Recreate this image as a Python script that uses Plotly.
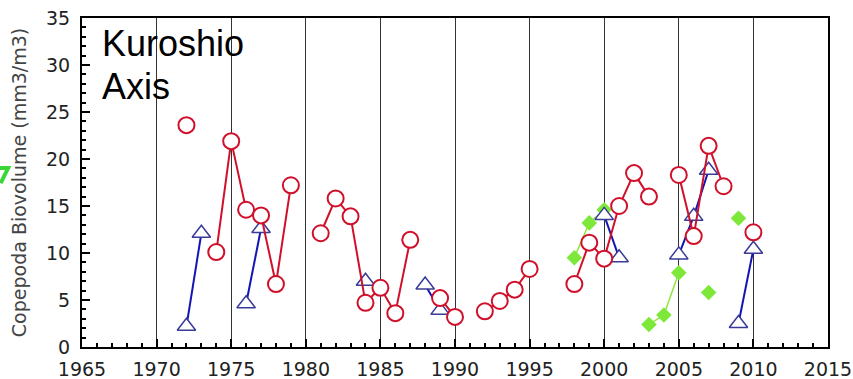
import plotly.graph_objects as go

years = list(range(1972, 2011))

# Red circles (series A)
red = {1972: 23.6, 1974: 10.1, 1975: 21.9, 1976: 14.6, 1977: 14.0, 1978: 6.7, 1979: 17.2,
       1981: 12.1, 1982: 15.8, 1983: 13.9, 1984: 4.7, 1985: 6.3, 1986: 3.6, 1987: 11.4,
       1989: 5.2, 1990: 3.2, 1992: 3.8, 1993: 4.9, 1994: 6.1, 1995: 8.3,
       1998: 6.7, 1999: 11.1, 2000: 9.4, 2001: 15.0, 2002: 18.5, 2003: 16.0,
       2005: 18.3, 2006: 11.8, 2007: 21.4, 2008: 17.1, 2010: 12.2}
# Blue triangles (series B)
blue = {1972: 2.2, 1973: 12.1, 1976: 4.6, 1977: 12.6, 1984: 7.0, 1988: 6.6, 1989: 3.9,
        2000: 14.0, 2001: 9.5, 2005: 9.8, 2006: 13.9, 2007: 18.8, 2009: 2.5, 2010: 10.4}
# Green diamonds (series C)
green = {1998: 9.5, 1999: 13.2, 2000: 14.6, 2003: 2.4, 2004: 3.4, 2005: 7.9,
         2007: 5.8, 2009: 13.7}

red_y = [red.get(y) for y in years]
blue_y = [blue.get(y) for y in years]
green_y = [green.get(y) for y in years]

x_ticks = list(range(1965, 2016, 5))
y_ticks = list(range(0, 36, 5))

fig = go.Figure()
fig.add_trace(go.Scatter(x=years, y=green_y, mode="lines+markers", connectgaps=False,
                         line=dict(color="#8ee83c", width=1.5),
                         marker=dict(symbol="diamond", size=12, color="#7de83a",
                                     line=dict(width=0))))
fig.add_trace(go.Scatter(x=years, y=blue_y, mode="lines+markers", connectgaps=False,
                         line=dict(color="#1414b4", width=2),
                         marker=dict(symbol="triangle-up", size=16, color="white",
                                     line=dict(color="#3a3a98", width=1.5))))
fig.add_trace(go.Scatter(x=years, y=red_y, mode="lines+markers", connectgaps=False,
                         line=dict(color="#d0102a", width=2),
                         marker=dict(symbol="circle", size=16, color="white",
                                     line=dict(color="#d0102a", width=2))))

tickfont = dict(family="DejaVu Sans", size=19, color="#222222")
fig.update_layout(
    width=853, height=379,
    margin=dict(l=82, r=25, t=18, b=32),
    paper_bgcolor="white", plot_bgcolor="white",
    showlegend=False,
    xaxis=dict(range=[1965, 2015], tickvals=x_ticks, ticktext=[str(v) for v in x_ticks],
               showgrid=True, gridcolor="#333333", gridwidth=1,
               ticks="inside", ticklen=8, tickcolor="black", tickwidth=1.5,
               minor=dict(dtick=1, ticks="inside", ticklen=4, tickcolor="black", showgrid=False),
               showline=True, linecolor="black", linewidth=2, mirror=True,
               zeroline=False, tickfont=tickfont, automargin=False, ticklabelstandoff=4),
    yaxis=dict(range=[0, 35], tickvals=y_ticks, ticktext=[str(v) for v in y_ticks],
               showgrid=False,
               ticks="inside", ticklen=8, tickcolor="black", tickwidth=1.5,
               minor=dict(dtick=1, ticks="inside", ticklen=4, tickcolor="black", showgrid=False),
               showline=True, linecolor="black", linewidth=2, mirror=True,
               zeroline=False, tickfont=tickfont, automargin=False, ticklabelstandoff=6,
               title=dict(text="Copepoda Biovolume (mm3/m3)",
                          font=dict(family="DejaVu Sans", size=19, color="#444444"),
                          standoff=14)),
)

fig.add_annotation(text="Kuroshio", xref="paper", yref="paper", x=0.024, y=0.99,
                   xanchor="left", yanchor="top", showarrow=False,
                   font=dict(family="Liberation Sans", size=36, color="black"))
fig.add_annotation(text="Axis", xref="paper", yref="paper", x=0.024, y=0.859,
                   xanchor="left", yanchor="top", showarrow=False,
                   font=dict(family="Liberation Sans", size=36, color="black"))

fig.add_shape(type="path", xref="paper", yref="paper",
              path="M -0.110 0.544 L -0.099 0.544 L -0.109 0.498",
              line=dict(color="#3ad63a", width=4))

fig.write_html("out.html", config={"displayModeBar": False},
               post_script="document.body.style.margin='0';")
